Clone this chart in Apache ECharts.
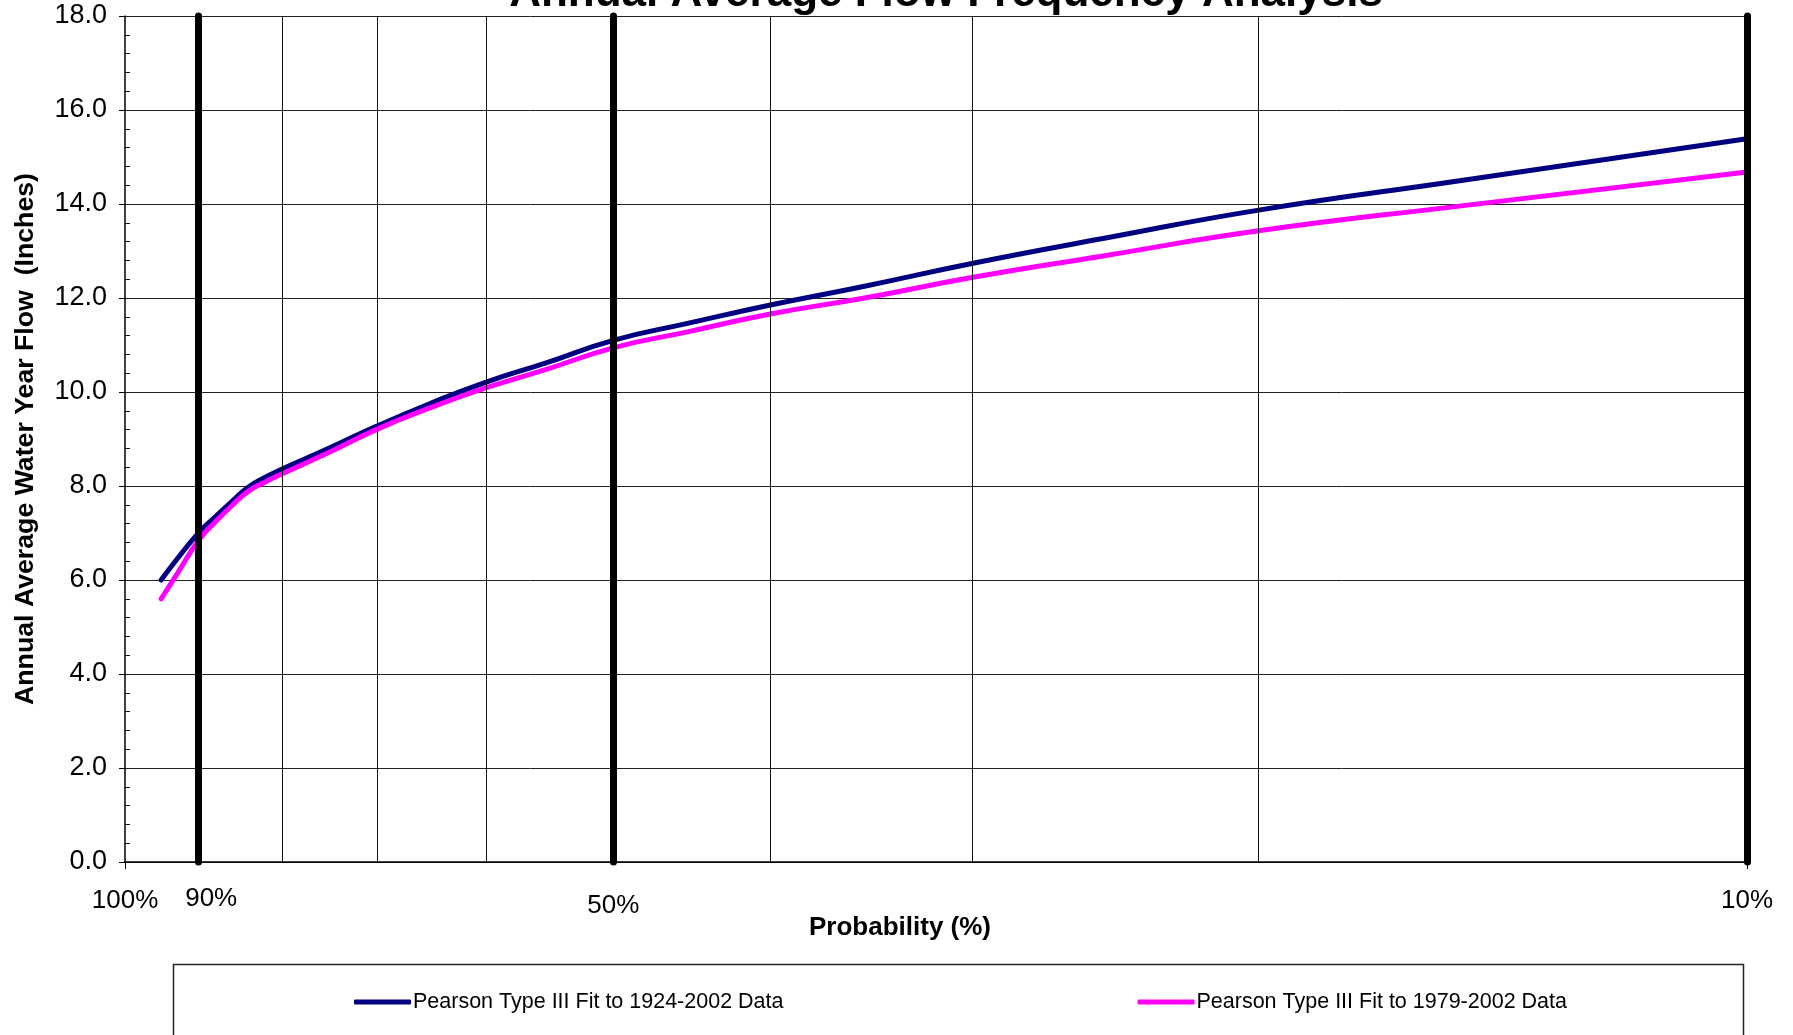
<!DOCTYPE html>
<html>
<head>
<meta charset="utf-8">
<script src="https://cdn.jsdelivr.net/npm/echarts@6/dist/echarts.min.js"></script>
<style>
html,body{margin:0;padding:0;background:#fff;}
#chart{width:1793px;height:1035px;}
</style>
</head>
<body>
<div id="chart"></div>
<script>
// ---- data (exceedance probability in %, flow in inches) ----
const probPct   = [95, 93, 90, 88, 86, 84, 82, 80, 75, 70, 65, 60, 55, 50, 45, 40, 35, 30, 25, 20, 15, 10];
const flow1924  = [6.00, 6.42, 7.02, 7.34, 7.66, 7.97, 8.18, 8.36, 8.79, 9.27, 9.74, 10.20, 10.62, 11.10, 11.46, 11.85, 12.25, 12.74, 13.26, 13.87, 14.50, 15.39];
const flow1979  = [5.60, 6.10, 6.86, 7.23, 7.57, 7.88, 8.08, 8.26, 8.70, 9.20, 9.65, 10.08, 10.48, 10.94, 11.28, 11.66, 12.00, 12.44, 12.89, 13.43, 13.96, 14.68];
const gridProbs = [80, 70, 60, 40, 30, 20];
const keyProbs  = [90, 50, 10];
const xLabelProbs = [100, 90, 50, 10];
const seriesNames = ['Pearson Type III Fit to 1924-2002 Data', 'Pearson Type III Fit to 1979-2002 Data'];
const titleText = 'Annual Average Flow Frequency Analysis';
const xName = 'Probability (%)';
const yName = 'Annual Average Water Year Flow  (Inches)';

// return period T = 100 / p, plotted on a log axis
const toT = p => 100 / p;
const pairs = (vals) => probPct.map((p, i) => [toT(p), vals[i]]);

const FONT = '"Liberation Sans", Arial, sans-serif';
const chart = echarts.init(document.getElementById('chart'), null, {renderer: 'canvas'});

const labelRich = {
  a: {fontSize: 26, fontFamily: FONT, color: '#000', padding: [3, 0, 0, 0]},
  b: {fontSize: 26, fontFamily: FONT, color: '#000', padding: [0.5, 0, 0, 24]},
  c: {fontSize: 26, fontFamily: FONT, color: '#000', padding: [7.5, 0, 0, 0]}
};

chart.setOption({
  animation: false,
  backgroundColor: '#fff',
  title: {
    text: titleText,
    left: 941, top: -33, textAlign: 'center',
    textStyle: {fontSize: 44, fontWeight: 'bold', fontFamily: FONT, color: '#000'}
  },
  grid: {left: 125, right: 46, top: 16, bottom: 173, containLabel: false, outerBoundsMode: 'none'},
  legend: {
    data: seriesNames,
    left: 349, top: 986,
    itemWidth: 57, itemHeight: 5, itemGap: 354,
    icon: 'roundRect',
    textStyle: {fontSize: 21.5, fontFamily: FONT, color: '#000', padding: [0, 0, 0, -3]}
  },
  graphic: [{
    type: 'rect', silent: true,
    shape: {x: 173.5, y: 964.5, width: 1570, height: 90},
    style: {fill: 'none', stroke: '#222', lineWidth: 1.5}
  }],
  xAxis: {
    type: 'log', logBase: 10, min: 1, max: 10,
    name: xName, nameLocation: 'middle', nameGap: 53, nameMoveOverlap: false,
    nameTextStyle: {fontSize: 26, fontWeight: 'bold', fontFamily: FONT, color: '#000', padding: [0, 72, 0, 0]},
    axisLine: {show: true, onZero: false, lineStyle: {color: '#000', width: 1.5}},
    axisTick: {show: true, length: 7, lineStyle: {color: '#000', width: 1}},
    splitLine: {show: false},
    axisLabel: {
      customValues: xLabelProbs.map(toT),
      margin: 23,
      formatter: function (v) {
        const p = Math.round(100 / v);
        const k = p === 90 ? 'b' : (p === 50 ? 'c' : 'a');
        return '{' + k + '|' + p + '%}';
      },
      rich: labelRich
    }
  },
  yAxis: [{
    type: 'value', min: 0, max: 18, interval: 2, position: 'left',
    name: yName, nameLocation: 'middle', nameGap: 86, nameMoveOverlap: false,
    nameTextStyle: {fontSize: 26.7, fontWeight: 'bold', fontFamily: FONT, color: '#000'},
    axisLine: {show: true, lineStyle: {color: '#000', width: 1.5}},
    axisTick: {show: true, length: 6, lineStyle: {color: '#000', width: 1}},
    axisLabel: {fontSize: 27, fontFamily: FONT, color: '#000', margin: 18,
      formatter: v => v.toFixed(1)},
    splitLine: {show: true, lineStyle: {color: '#222', width: 1}}
  }, {
    type: 'value', min: 0, max: 18, interval: 2, position: 'left', offset: 0,
    axisLine: {show: false},
    axisTick: {show: false, inside: true},
    axisLabel: {show: false},
    splitLine: {show: false},
    minorTick: {show: true, splitNumber: 5, length: 5, lineStyle: {color: '#000', width: 1}}
  }],
  series: [
    {
      name: 'grid', type: 'line', data: [], z: 1, silent: true,
      markLine: {
        silent: true, symbol: 'none', animation: false,
        label: {show: false},
        lineStyle: {color: '#111', width: 1, type: 'solid'},
        data: gridProbs.map(p => ({xAxis: toT(p)}))
      }
    },
    {
      name: seriesNames[0], type: 'line', data: pairs(flow1924), z: 3,
      showSymbol: false, smooth: 0.5,
      color: '#000080',
      lineStyle: {color: '#000080', width: 5, cap: 'round', join: 'round'}
    },
    {
      name: seriesNames[1], type: 'line', data: pairs(flow1979), z: 3,
      showSymbol: false, smooth: 0.5,
      color: '#FF00FF',
      lineStyle: {color: '#FF00FF', width: 5, cap: 'round', join: 'round'}
    },
    {
      name: 'key', type: 'line', data: [], z: 6, silent: true,
      markLine: {
        silent: true, symbol: 'none', animation: false,
        label: {show: false},
        lineStyle: {color: '#000', width: 7, type: 'solid', cap: 'round'},
        data: keyProbs.map(p => ({xAxis: toT(p)}))
      }
    }
  ]
});
</script>
</body>
</html>
